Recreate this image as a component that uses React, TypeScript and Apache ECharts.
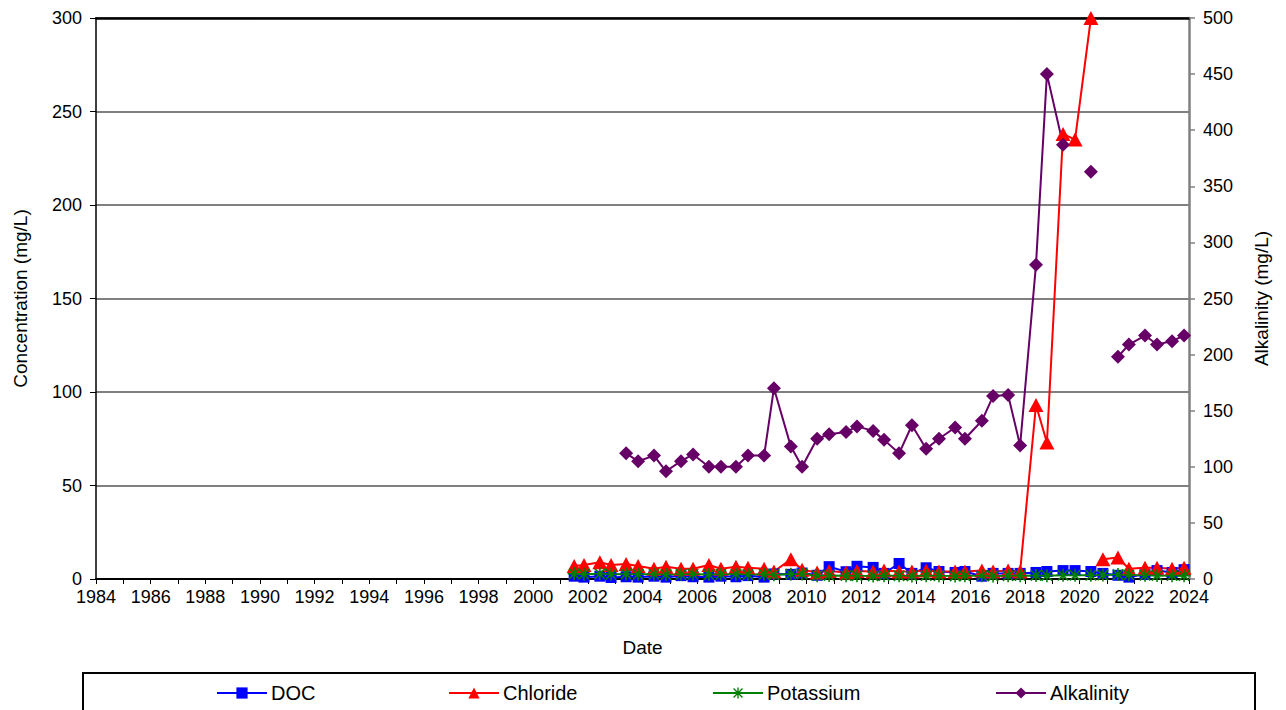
import React, { useEffect, useRef } from "react";
import * as echarts from "echarts";

// Sample dates (decimal years); 2020.63 is an empty row marking a gap in the record
const dates = [
  2001.5, 2001.86, 2002.44, 2002.85, 2003.4, 2003.84, 2004.42, 2004.86, 2005.41, 2005.85,
  2006.43, 2006.87, 2007.42, 2007.86, 2008.45, 2008.81, 2009.43, 2009.84, 2010.39, 2010.83,
  2011.45, 2011.85, 2012.44, 2012.84, 2013.39, 2013.86, 2014.38, 2014.85, 2015.44, 2015.8,
  2016.42, 2016.83, 2017.38, 2017.82, 2018.4, 2018.8, 2019.39, 2019.83, 2020.41, 2020.63,
  2020.85, 2021.4, 2021.8, 2022.39, 2022.83, 2023.38, 2023.82,
];

const doc = [
  1.5, 1, 1.5, 0.8, 1.2, 1, 1.5, 1, 1.8, 1.2,
  1, 1.5, 1.2, 1.8, 1, 2.7, 2.5, 3.2, 2, 6.6,
  3.9, 6.8, 6.2, 3, 8.3, 3, 6, 4, 3.5, 4,
  1.5, 3, 3, 3, 3.5, 4, 4.5, 4.5, 4, null,
  3, 2, 1, 2.5, 4.5, 3.5, 5,
];

const chloride = [
  7, 7.5, 9, 7.5, 8, 7, 5.5, 6.5, 5.5, 5.5,
  7.5, 5.5, 6.5, 6, 5.5, 4, 10.5, 5, 3.5, 4.3,
  3.5, 4.3, 4, 4.5, 4, 4, 4.5, 4, 4, 4,
  4.5, 4, 4.5, 4, 93, 73, 238, 235, 300, null,
  10.5, 11.5, 5.5, 6, 6, 5.5, 6,
];

const potassium = [
  2.8, 2.6, 2.8, 2.5, 2.7, 2.5, 2.6, 2.4, 2.5, 2.6,
  2.4, 2.5, 2.6, 2.4, 2.5, 2.3, 2.6, 2.7, 1.8, 1.9,
  1.8, 1.7, 1.6, 1.8, 1.7, 1.6, 1.8, 1.7, 1.6, 1.7,
  1.8, 1.6, 1.7, 1.8, 1.9, 1.8, 2, 2, 2, null,
  2.1, 2.4, 2.2, 2, 1.9, 1.8, 1.8,
];

const alkalinity = [
  null, null, null, null, 112, 105, 110, 96, 105, 111,
  100, 100, 100, 110, 110, 170, 118, 100, 125, 129,
  131, 136, 132, 124, 112, 137, 116, 125, 135, 125,
  141, 163, 164, 119, 280, 450, 387, null, 363, null,
  null, 198, 209, 217, 209, 212, 217,
];

const seriesNames = ["DOC", "Chloride", "Potassium", "Alkalinity"];
const xTicks = { min: 1984, max: 2024, step: 1, labelEvery: 2 };
const leftTicks = { min: 0, max: 300, step: 50 };
const rightTicks = { min: 0, max: 500, step: 50 };

const FONT = "'Liberation Sans', Arial, Helvetica, sans-serif";
const STAR =
  "path://M0,4.4 H10 V5.6 H0 Z M4.4,0 H5.6 V10 H4.4 Z M0.6,1.45 L1.45,0.6 L9.4,8.55 L8.55,9.4 Z M8.55,0.6 L9.4,1.45 L1.45,9.4 L0.6,8.55 Z";

const pairs = (vals: (number | null)[]) => dates.map((d, i) => [d, vals[i] === null ? "-" : vals[i]]);

export default function App() {
  const ref = useRef<HTMLDivElement>(null);
  useEffect(() => {
    if (!ref.current) return;
    const chart = echarts.init(ref.current, null, { renderer: "svg" });
    const colors = ["#0000FF", "#FF0000", "#008000", "#660066"];
    const legendLefts = [216, 448, 712, 995];
    chart.setOption({
      animation: false,
      textStyle: { fontFamily: FONT, color: "#000" },
      grid: { left: 96, right: 97, top: 18, bottom: 131, containLabel: false },
      legend: seriesNames.map((n, i) => ({
        data: [n],
        left: legendLefts[i],
        top: 683,
        padding: 0,
        itemWidth: 50,
        itemHeight: 14,
        itemGap: 4,
        textStyle: { fontSize: 20, fontFamily: FONT, color: "#000", padding: [0, 0, 0, -1] },
      })),
      graphic: [
        {
          type: "rect",
          shape: { x: 83, y: 673, width: 1172, height: 60 },
          style: { fill: "none", stroke: "#000", lineWidth: 2 },
          z: -1,
        },
      ],
      xAxis: [
        {
          type: "value",
          min: xTicks.min,
          max: xTicks.max,
          interval: xTicks.step,
          name: "Date",
          nameLocation: "middle",
          nameGap: 59,
          nameTextStyle: { fontSize: 19, fontFamily: FONT, color: "#000" },
          axisLine: { onZero: false, lineStyle: { color: "#000", width: 2 } },
          axisTick: { show: true, length: 5, lineStyle: { color: "#000", width: 1 } },
          axisLabel: {
            fontSize: 18,
            fontFamily: FONT,
            color: "#000",
            margin: 9,
            formatter: (v: number) => (Math.round(v - xTicks.min) % xTicks.labelEvery === 0 ? String(v) : ""),
          },
          splitLine: { show: false },
        },
        {
          type: "value",
          position: "top",
          min: xTicks.min,
          max: xTicks.max,
          axisLine: { show: true, onZero: false, lineStyle: { color: "#000", width: 2.5 } },
          axisTick: { show: false },
          axisLabel: { show: false },
          splitLine: { show: false },
        },
      ],
      yAxis: [
        {
          type: "value",
          min: leftTicks.min,
          max: leftTicks.max,
          interval: leftTicks.step,
          name: "Concentration (mg/L)",
          nameLocation: "middle",
          nameRotate: 90,
          nameGap: 66,
          nameTextStyle: { fontSize: 19, fontFamily: FONT, color: "#000" },
          axisLine: { show: true, onZero: false, lineStyle: { color: "#000", width: 1.5 } },
          axisTick: { show: true, length: 6, lineStyle: { color: "#000" } },
          axisLabel: { fontSize: 18, fontFamily: FONT, color: "#000", margin: 14 },
          splitLine: { show: true, lineStyle: { color: "#808080", width: 2 } },
        },
        {
          type: "value",
          position: "right",
          min: rightTicks.min,
          max: rightTicks.max,
          interval: rightTicks.step,
          name: "Alkalinity (mg/L)",
          nameLocation: "middle",
          nameRotate: 90,
          nameGap: 63,
          nameTextStyle: { fontSize: 19, fontFamily: FONT, color: "#000" },
          axisLine: { show: true, onZero: false, lineStyle: { color: "#808080", width: 2.5 } },
          axisTick: { show: true, length: 6, lineStyle: { color: "#808080", width: 1.5 } },
          axisLabel: { fontSize: 18, fontFamily: FONT, color: "#000", margin: 14 },
          splitLine: { show: false },
        },
      ],
      series: [
        {
          name: "DOC",
          type: "line",
          yAxisIndex: 0,
          data: pairs(doc),
          connectNulls: true,
          symbol: "rect",
          symbolSize: 11,
          color: colors[0],
          lineStyle: { width: 2, color: colors[0] },
          itemStyle: { color: colors[0] },
        },
        {
          name: "Chloride",
          type: "line",
          yAxisIndex: 0,
          data: pairs(chloride),
          connectNulls: false,
          symbol: "triangle",
          symbolSize: [15, 14],
          color: colors[1],
          lineStyle: { width: 2, color: colors[1] },
          itemStyle: { color: colors[1] },
        },
        {
          name: "Potassium",
          type: "line",
          yAxisIndex: 0,
          data: pairs(potassium),
          connectNulls: true,
          symbol: STAR,
          symbolSize: 13,
          color: colors[2],
          lineStyle: { width: 2, color: colors[2] },
          itemStyle: { color: colors[2] },
        },
        {
          name: "Alkalinity",
          type: "line",
          yAxisIndex: 1,
          data: pairs(alkalinity),
          connectNulls: false,
          symbol: "diamond",
          symbolSize: 14,
          color: colors[3],
          lineStyle: { width: 2, color: colors[3] },
          itemStyle: { color: colors[3] },
        },
      ],
    });
    return () => chart.dispose();
  }, []);
  return (
    <div
      ref={ref}
      style={{ position: "absolute", left: 0, top: 0, width: 1286, height: 710, background: "#fff" }}
    />
  );
}
